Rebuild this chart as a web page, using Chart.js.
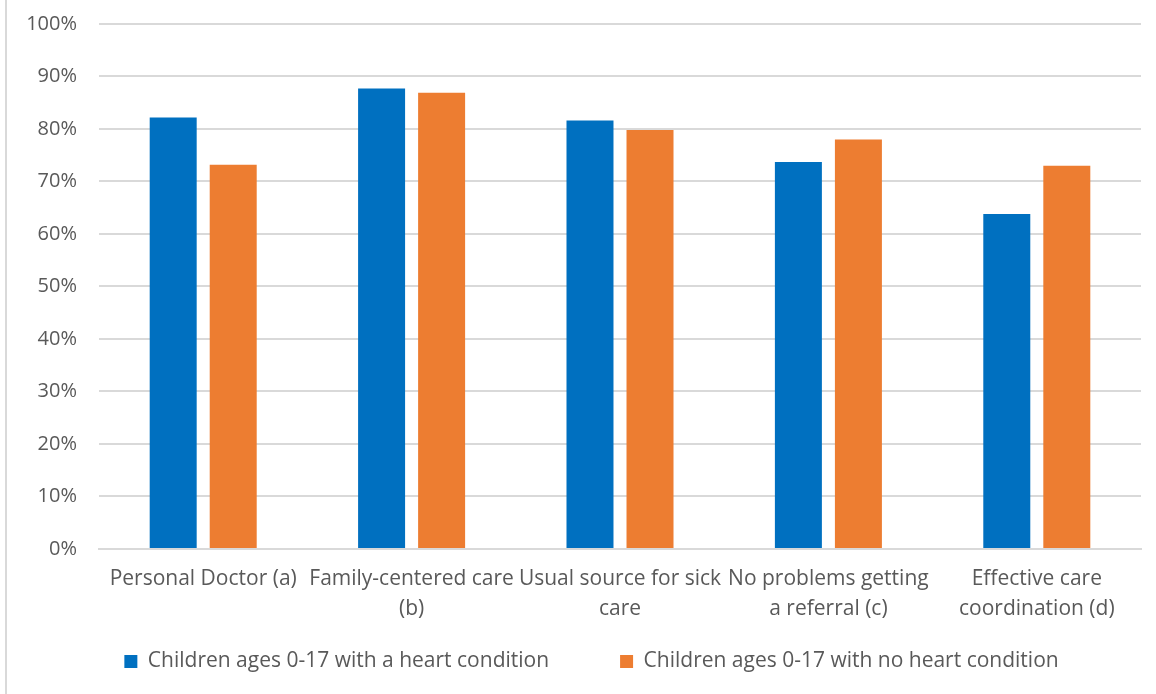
<!DOCTYPE html>
<html>
<head>
<meta charset="utf-8">
<script src="https://cdn.jsdelivr.net/npm/chart.js@4/dist/chart.umd.min.js"></script>
<style>
  html, body { margin: 0; padding: 0; background: #ffffff; }
  #wrap { position: relative; width: 1156px; height: 694px; }
  #frame { position: absolute; left: 5px; top: 0; width: 2px; height: 694px; background: #d9d9d9; }
  canvas { position: absolute; left: 0; top: 0; }
</style>
</head>
<body>
<div id="wrap">
  <div id="frame"></div>
  <canvas id="chart" width="1156" height="694"></canvas>
</div>
<script>
// Medical home components, share of children (percent)
const categories = [
  ["Personal Doctor (a)"],
  ["Family-centered care", "(b)"],
  ["Usual source for sick", "care"],
  ["No problems getting", "a referral (c)"],
  ["Effective care", "coordination (d)"]
];
const seriesNames = [
  "Children ages 0-17 with a heart condition",
  "Children ages 0-17 with no heart condition"
];
const withHeartCondition = [82.2, 87.7, 81.6, 73.7, 63.8];
const noHeartCondition = [73.2, 86.9, 79.8, 78.0, 73.0];
const yTicks = [0, 10, 20, 30, 40, 50, 60, 70, 80, 90, 100];

const textColor = "#595959";
const fontFamily = "'Open Sans', Lato, sans-serif";
const legendGap = 71;

// Legend sits closer to the axis labels than its item spacing would imply,
// and slightly right of the canvas centre.
const legendPlacement = {
  id: "legendPlacement",
  afterLayout(chart) {
    const lg = chart.legend;
    if (!lg) return;
    const dx = 21;
    lg.top = 580;
    lg.bottom = chart.height;
    lg.height = lg.bottom - lg.top;
    lg.left += dx; lg.right += dx;
  }
};

new Chart(document.getElementById("chart"), {
  type: "bar",
  data: {
    labels: categories,
    datasets: [
      {
        label: seriesNames[0],
        data: withHeartCondition,
        backgroundColor: "#0070C0",
        categoryPercentage: 0.576,
        barPercentage: 0.783
      },
      {
        label: seriesNames[1],
        data: noHeartCondition,
        backgroundColor: "#ED7D31",
        categoryPercentage: 0.576,
        barPercentage: 0.783
      }
    ]
  },
  plugins: [legendPlacement],
  options: {
    responsive: false,
    animation: false,
    layout: { autoPadding: false, padding: { left: 0, right: 15, top: 24, bottom: -16 } },
    scales: {
      x: {
        grid: { display: false, drawTicks: false },
        border: { display: true, color: "#d9d9d9", width: 2 },
        ticks: {
          color: textColor,
          font: { family: fontFamily, size: 21, lineHeight: 1.43 },
          padding: 15,
          maxRotation: 0,
          autoSkip: false
        }
      },
      y: {
        min: 0,
        max: 100,
        afterFit: (scale) => {
          scale.width = 99;
          scale.paddingTop = 0;
        },
        afterBuildTicks: (scale) => {
          scale.ticks = yTicks.map((v) => ({ value: v }));
        },
        grid: { color: "#d9d9d9", lineWidth: 2, drawTicks: false },
        border: { display: false },
        ticks: {
          color: textColor,
          font: { family: fontFamily, size: 20 },
          padding: 22,
          callback: (v) => v + "%"
        }
      }
    },
    plugins: {
      legend: {
        position: "bottom",
        maxHeight: 71,
        labels: {
          color: textColor,
          font: { family: fontFamily, size: 21 },
          boxWidth: 13,
          boxHeight: 13,
          padding: legendGap
        }
      },
      tooltip: { enabled: false }
    }
  }
});
</script>
</body>
</html>
